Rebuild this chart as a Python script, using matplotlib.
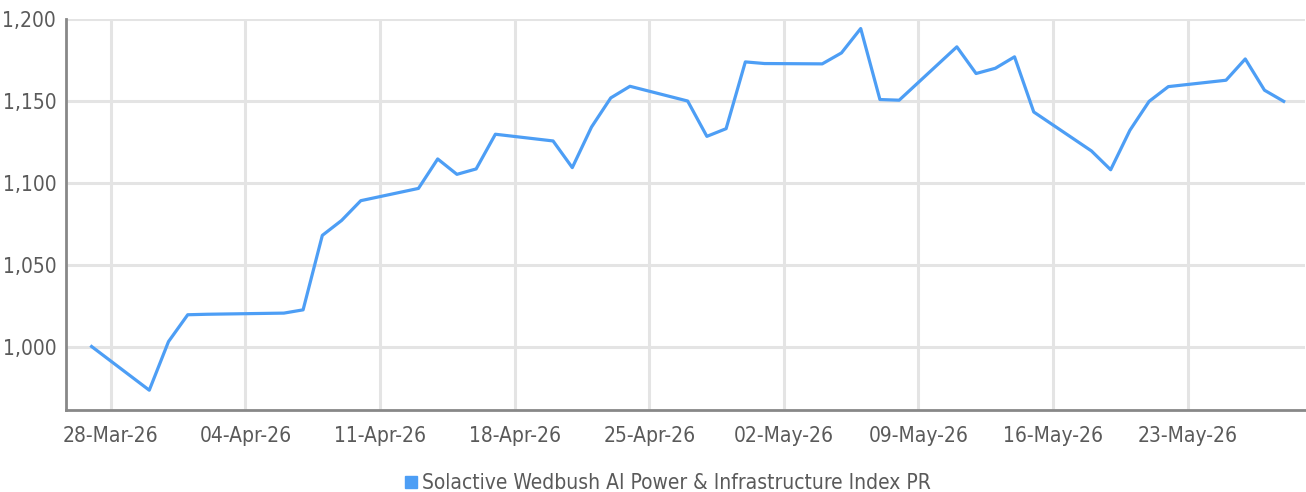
import matplotlib
matplotlib.use("Agg")
import matplotlib.pyplot as plt
import matplotlib.dates as mdates
import pandas as pd
from matplotlib.lines import Line2D
from matplotlib import font_manager

# index levels
dates = ["2026-03-27", "2026-03-30", "2026-03-31", "2026-04-01", "2026-04-02",
         "2026-04-06", "2026-04-07", "2026-04-08", "2026-04-09", "2026-04-10",
         "2026-04-13", "2026-04-14", "2026-04-15", "2026-04-16", "2026-04-17",
         "2026-04-20", "2026-04-21", "2026-04-22", "2026-04-23", "2026-04-24",
         "2026-04-27", "2026-04-28", "2026-04-29", "2026-04-30", "2026-05-01",
         "2026-05-04", "2026-05-05", "2026-05-06", "2026-05-07", "2026-05-08",
         "2026-05-11", "2026-05-12", "2026-05-13", "2026-05-14", "2026-05-15",
         "2026-05-18", "2026-05-19", "2026-05-20", "2026-05-21", "2026-05-22",
         "2026-05-25", "2026-05-26", "2026-05-27", "2026-05-28"]
values = [1000.0, 973.3, 1003.0, 1019.4, 1019.7,
          1020.4, 1022.4, 1067.9, 1077.0, 1089.1,
          1096.6, 1114.6, 1105.2, 1108.5, 1129.7,
          1125.6, 1109.3, 1134.1, 1151.9, 1159.0,
          1150.0, 1128.4, 1133.1, 1173.9, 1172.9,
          1172.7, 1179.4, 1194.3, 1150.9, 1150.5,
          1183.1, 1166.8, 1170.0, 1177.0, 1143.3,
          1119.5, 1108.0, 1132.1, 1149.8, 1158.8,
          1162.7, 1175.7, 1156.6, 1149.8]
series_name = "Solactive Wedbush AI Power & Infrastructure Index PR"

# look for a narrow face, the original uses a condensed font
fonts = font_manager.fontManager.ttflist
narrow = [f for f in fonts if "condensed" in str(f.stretch).lower()
          or "narrow" in f.name.lower() or "condensed" in f.name.lower()
          or "Condensed" in f.fname or "Narrow" in f.fname]
if narrow:
    plt.rcParams['font.family'] = [narrow[0].name, "DejaVu Sans"]
    plt.rcParams['font.stretch'] = narrow[0].stretch
else:
    plt.rcParams['font.family'] = ["DejaVu Sans"]

x = pd.to_datetime(dates)
line_color = "#4d9ef5"
text_color = "#5a5a5a"

fig = plt.figure(figsize=(13.06, 4.92), dpi=100)
ax = fig.add_axes([0.0505, 0.166, 0.949, 0.795])

ax.plot(x, values, color=line_color, lw=2.3)

ax.set_ylim(961, 1200)
ax.set_yticks([1000, 1050, 1100, 1150, 1200])
ax.yaxis.set_major_formatter(matplotlib.ticker.FuncFormatter(lambda v, p: f"{v:,.0f}"))
ax.set_xlim(pd.Timestamp("2026-03-25 16:00"), pd.Timestamp("2026-05-29 03:00"))
ax.xaxis.set_major_locator(mdates.WeekdayLocator(byweekday=mdates.SA))
ax.xaxis.set_major_formatter(mdates.DateFormatter("%d-%b-%y"))

ax.grid(True, color="#e4e4e4", lw=2.2)
ax.set_axisbelow(True)
for s in ["top", "right"]:
    ax.spines[s].set_visible(False)
for s in ["left", "bottom"]:
    ax.spines[s].set_color("#888888")
    ax.spines[s].set_linewidth(2)
ax.tick_params(length=0, colors=text_color, labelsize=15)
ax.tick_params(axis="x", pad=11)
ax.tick_params(axis="y", pad=7)

handle = Line2D([], [], marker="s", ls="none", color=line_color, markersize=8)
fig.legend([handle], [series_name], loc="lower center", bbox_to_anchor=(0.511, -0.04),
           frameon=False, fontsize=15, labelcolor=text_color,
           handlelength=0.7, handletextpad=0.2)

fig.savefig("out.png", dpi=100)
